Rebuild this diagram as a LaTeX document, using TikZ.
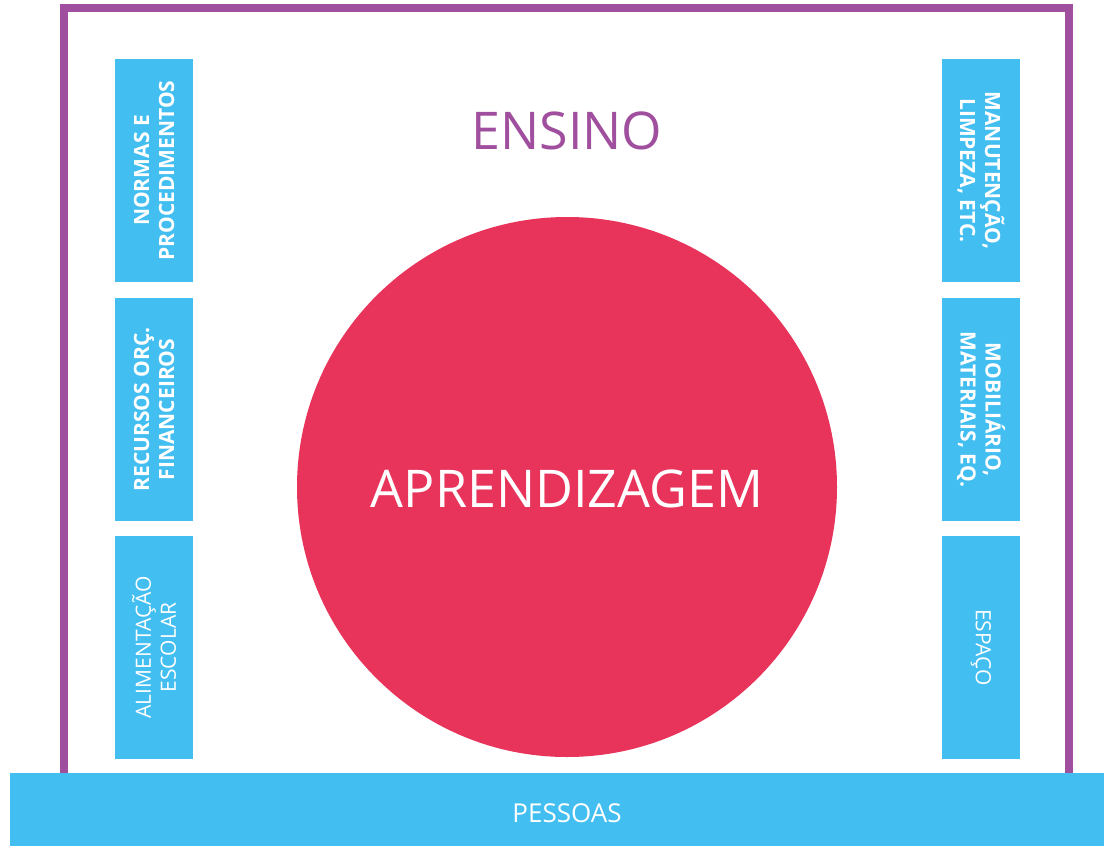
\documentclass[tikz,border=0pt]{standalone}
\usepackage{fontspec}
\setmainfont{Open Sans}
\definecolor{frameP}{RGB}{160,79,158}
\definecolor{boxB}{RGB}{67,190,241}
\definecolor{circR}{RGB}{232,51,90}
\begin{document}
\begin{tikzpicture}[x=1pt,y=-1pt,
  sidebox/.style={fill=boxB, draw=none, inner sep=0pt, outer sep=0pt,
    minimum width=223pt, minimum height=78pt, text=white, align=center,
    font=\fontsize{21}{25}\selectfont},
  boldbox/.style={sidebox, font=\fontsize{21}{25}\selectfont\bfseries},
  leftside/.style={rotate=90},
  rightside/.style={rotate=-90}]
\useasboundingbox (0,0) rectangle (1104,846);
\fill[white] (0,0) rectangle (1104,846);
% frame
\draw[frameP, line width=8pt] (64,790) -- (64,8) -- (1069,8) -- (1069,790);
% title
\node[text=frameP, font=\fontsize{52}{62}\selectfont] (ensino) at (567,131) {ENSINO};
% circle
\node[circle, fill=circR, minimum size=540pt, inner sep=0pt] (circ) at (567,487) {};
\node[text=white, font=\fontsize{52}{62}\selectfont] (apr) at (567,489) {APRENDIZAGEM};
% left boxes
\node[boldbox, leftside] (l1) at (154,170.5) {NORMAS E\\PROCEDIMENTOS};
\node[boldbox, leftside] (l2) at (154,409.5) {RECURSOS ORÇ.\\FINANCEIROS};
\node[sidebox, leftside] (l3) at (154,647.5) {ALIMENTAÇÃO\\ESCOLAR};
% right boxes
\node[boldbox, rightside] (r1) at (981,170.5) {MANUTENÇÃO,\\LIMPEZA, ETC.};
\node[boldbox, rightside] (r2) at (981,409.5) {MOBILIÁRIO,\\MATERIAIS, EQ.};
\node[sidebox, rightside] (r3) at (981,647.5) {ESPAÇO};
% bottom bar
\node[fill=boxB, inner sep=0pt, outer sep=0pt, minimum width=1094pt, minimum height=73pt] (bar) at (557,809.5) {};
\node[text=white, font=\fontsize{26}{30}\selectfont] (pessoas) at (567,813) {PESSOAS};
\end{tikzpicture}
\end{document}
